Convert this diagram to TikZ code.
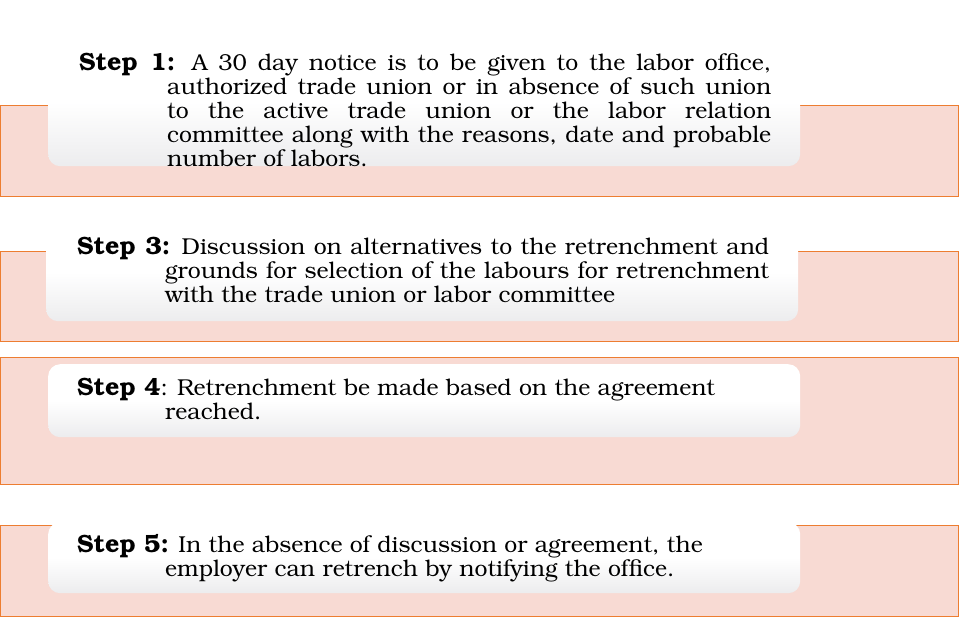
\documentclass[tikz,border=0pt]{standalone}
\usepackage[T1]{fontenc}
\usepackage{bookman}
\usetikzlibrary{positioning}
\definecolor{bandfill}{HTML}{F8DAD3}
\definecolor{banddraw}{HTML}{ED7D31}
\definecolor{cardgray}{HTML}{DADADD}
\pgfdeclareverticalshading{cardshade}{100bp}{color(0bp)=(cardgray); color(18bp)=(cardgray!65); color(50bp)=(white); color(100bp)=(white)}
\tikzstyle{band} = [draw=banddraw,fill=bandfill,line width=1pt,rectangle,inner sep=0,anchor=north west,minimum width=958pt]
\tikzstyle{card} = [rectangle,rounded corners=12pt,shading=cardshade,inner sep=0,anchor=north west,minimum width=752pt]
\tikzstyle{steptext} = [anchor=base west,inner sep=0,text width=692pt,align=justify,font=\fontsize{23}{24}\selectfont]
\def \hang {\hangindent=88pt\hangafter=1\emergencystretch=2em}
\def \steplab #1{{\fontsize{25}{24}\selectfont\bfseries #1}}

\begin{document}
\begin{tikzpicture}[x=1pt,y=-1pt]
  \useasboundingbox (0,0) rectangle (960,629);
  % orange bands behind the cards
  \node[band,minimum height=91pt] (b1) at (0,105) {};
  \node[band,minimum height=90pt] (b3) at (0,251) {};
  \node[band,minimum height=127pt] (b4) at (0,357) {};
  \node[band,minimum height=91pt] (b5) at (0,525) {};
  % shaded cards
  \node[card,minimum height=128pt] (c1) at (48,38) {};
  \node[card,minimum height=98pt] (c3) at (46,223) {};
  \node[card,minimum height=73pt] (c4) at (48,364) {};
  \node[card,minimum height=71pt] (c5) at (48,522) {};
  % step texts
  \node[steptext] (t1) at (79,70) {\hang \steplab{Step 1:} A 30 day notice is to be given to the labor office,\linebreak authorized trade union or in absence of such union\linebreak to the active trade union or the labor relation\linebreak committee along with the reasons, date and probable\linebreak number of labors.\par};
  \node[steptext] (t3) at (77,254) {\hang \steplab{Step 3:} Discussion on alternatives to the retrenchment and\linebreak grounds for selection of the labours for retrenchment\linebreak with the trade union or labor committee\par};
  \node[steptext] (t4) at (77,395) {\hang \steplab{Step 4}: Retrenchment be made based on the agreement\newline reached.\par};
  \node[steptext] (t5) at (77,552) {\hang \steplab{Step 5:} In the absence of discussion or agreement, the\newline employer can retrench by notifying the office.\par};
\end{tikzpicture}
\end{document}
